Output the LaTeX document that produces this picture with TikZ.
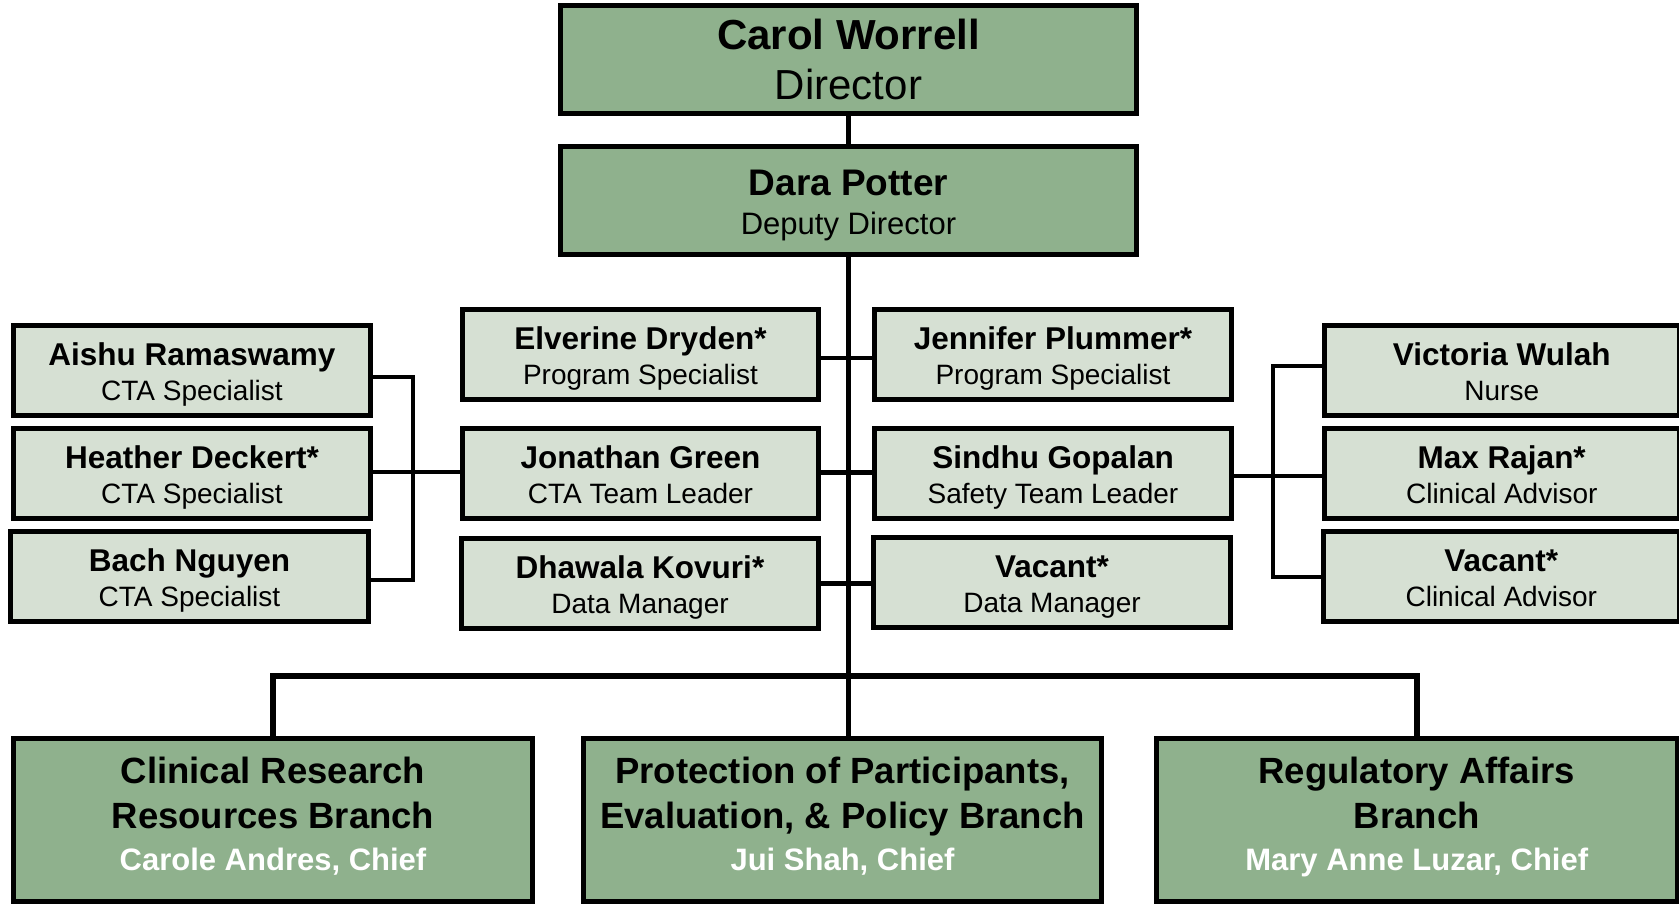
\documentclass[tikz,border=0pt]{standalone}
\usepackage{fontspec}
\setmainfont{Liberation Sans}
\definecolor{dkgreen}{RGB}{143,177,141}
\definecolor{ltgreen}{RGB}{214,224,211}
\newcommand\ptwo[2]{{\fontsize{31.5}{35}\selectfont\bfseries\rule{0pt}{31.6pt}#1}\\\rule[-6pt]{0pt}{1pt}#2}
\newcommand\chiefline[1]{{\fontsize{31}{44}\selectfont\color{white}\rule[-13pt]{0pt}{1pt}#1}}
\begin{document}
\begin{tikzpicture}[x=1pt,y=-1pt,
  box/.style={draw=black,line width=5pt,fill=ltgreen,align=center,inner sep=0pt,
    minimum width=356pt,minimum height=90pt,font=\fontsize{28}{35}\selectfont},
  topbox/.style={draw=black,line width=5pt,fill=dkgreen,align=center,inner sep=0pt,
    minimum width=576pt,minimum height=108pt},
  branch/.style={draw=black,line width=5pt,fill=dkgreen,align=center,inner sep=0pt,
    minimum height=163pt,font=\fontsize{36.5}{45}\selectfont\bfseries},
  conn/.style={line width=4.5pt,draw=black},
]
\useasboundingbox (0,0) rectangle (1679,905);

% top
\node[topbox,font=\fontsize{42}{50}\selectfont] (dir) at (848.5,59.5) {{\bfseries Carol Worrell}\\Director};
\node[topbox,font=\fontsize{31}{39}\selectfont] (dep) at (848.5,200.5) {{\fontsize{37}{39}\selectfont\bfseries\rule{0pt}{35.6pt}Dara Potter}\\Deputy Director};

% left column
\node[box,minimum width=357pt] (ais) at (192,370.5) {\ptwo{Aishu Ramaswamy}{CTA Specialist}};
\node[box,minimum width=357pt] (hea) at (192,473.5) {\ptwo{Heather Deckert*}{CTA Specialist}};
\node[box,minimum width=358pt] (bach) at (189.5,576) {\ptwo{Bach Nguyen}{CTA Specialist}};

% middle left
\node[box] (eld) at (640.5,354.5) {\ptwo{Elverine Dryden*}{Program Specialist}};
\node[box] (jon) at (640.5,473.5) {\ptwo{Jonathan Green}{CTA Team Leader}};
\node[box,minimum width=357pt] (dha) at (640,583.5) {\ptwo{Dhawala Kovuri*}{Data Manager}};

% middle right
\node[box,minimum width=357pt] (jen) at (1053,354.5) {\ptwo{Jennifer Plummer*}{Program Specialist}};
\node[box,minimum width=357pt] (sin) at (1053,473.5) {\ptwo{Sindhu Gopalan}{Safety Team Leader}};
\node[box,minimum width=357pt] (vdm) at (1052,582.5) {\ptwo{Vacant*}{Data Manager}};

% right column
\node[box,minimum width=354.5pt] (vic) at (1501.75,370.5) {\ptwo{Victoria Wulah}{Nurse}};
\node[box,minimum width=354.5pt] (max) at (1501.75,473.5) {\ptwo{Max Rajan*}{Clinical Advisor}};
\node[box,minimum width=355.5pt] (vca) at (1501.25,576) {\ptwo{Vacant*}{Clinical Advisor}};

% branches
\node[branch,minimum width=519pt] (br1) at (273,820) {Clinical Research\\Resources Branch\\[-3.3pt]\chiefline{Carole Andres, Chief}};
\node[branch,minimum width=518pt] (br2) at (842.5,820) {Protection of Participants,\\Evaluation, \& Policy Branch\\[-3.3pt]\chiefline{Jui Shah, Chief}};
\node[branch,minimum width=520.5pt] (br3) at (1416.75,820) {Regulatory Affairs\\Branch\\[-3.3pt]\chiefline{Mary Anne Luzar, Chief}};

% connectors
\coordinate (lb) at (413,0);
\coordinate (rb) at (1273,0);
\coordinate (bar) at (0,676);
\draw[conn] (dir.south) -- (dep.north);
\draw[conn] (dep.south) -- (dep.south |- br2.north);
\draw[conn] ([yshift=-3.5pt]eld.east) -- ([yshift=-3.5pt]jen.west);
\draw[conn] ([yshift=1pt]jon.east) -- ([yshift=1pt]sin.west);
\draw[conn] (dha.east) -- (dha.east -| vdm.west);
\draw[conn] ([yshift=-6.5pt]ais.east) -- ([yshift=-6.5pt]ais.east -| lb)
  -- ([yshift=-4pt]bach.east -| lb) -- ([yshift=-4pt]bach.east);
\draw[conn] ([yshift=1.5pt]hea.east) -- ([yshift=1.5pt]hea.east -| jon.west);
\draw[conn] ([yshift=4.5pt]vic.west) -- ([yshift=4.5pt]vic.west -| rb)
  -- ([yshift=-1pt]vca.west -| rb) -- ([yshift=-1pt]vca.west);
\draw[conn] ([yshift=-2.5pt]sin.east) -- ([yshift=-2.5pt]sin.east -| max.west);
\draw[conn,line width=6pt] (br1.north) -- (br1.north |- bar) -- (br3.north |- bar) -- (br3.north);
\end{tikzpicture}
\end{document}
